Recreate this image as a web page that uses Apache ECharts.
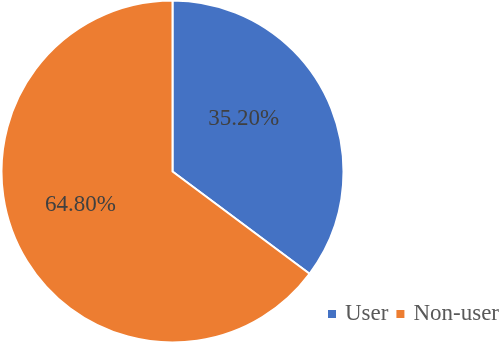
<!DOCTYPE html>
<html>
<head>
<meta charset="utf-8">
<script src="https://cdn.jsdelivr.net/npm/echarts@6/dist/echarts.min.js"></script>
<style>
html,body{margin:0;padding:0;background:#fff;}
#c{width:500px;height:343px;}
</style>
</head>
<body>
<div id="c"></div>
<script>
const categories = ['User', 'Non-user'];
const values = [35.2, 64.8];
const colors = ['#4472C4', '#ED7D31'];
const labelOffsets = [[-8, -13], [-13, -6]];

const chart = echarts.init(document.getElementById('c'), null, {renderer: 'canvas'});
chart.setOption({
  animation: false,
  backgroundColor: '#ffffff',
  legend: {
    data: categories,
    right: 1,
    top: 302,
    padding: 0,
    itemWidth: 8,
    itemHeight: 8,
    itemGap: 8,
    icon: 'rect',
    itemStyle: {borderWidth: 0},
    textStyle: {
      fontFamily: 'Liberation Serif',
      fontSize: 23,
      color: '#595959',
      lineHeight: 24,
      padding: [0, 0, 0, 4]
    }
  },
  series: [{
    type: 'pie',
    center: [172.5, 171.5],
    radius: [0, 171],
    startAngle: 90,
    clockwise: true,
    itemStyle: {borderColor: '#ffffff', borderWidth: 2},
    label: {
      position: 'inside',
      fontFamily: 'Liberation Serif',
      fontSize: 23,
      color: '#404040',
      formatter: function (p) { return p.value.toFixed(2) + '%'; }
    },
    labelLine: {show: false},
    emphasis: {disabled: true},
    data: categories.map((n, i) => ({
      name: n,
      value: values[i],
      itemStyle: {color: colors[i]},
      label: {offset: labelOffsets[i]}
    }))
  }]
});
</script>
</body>
</html>
